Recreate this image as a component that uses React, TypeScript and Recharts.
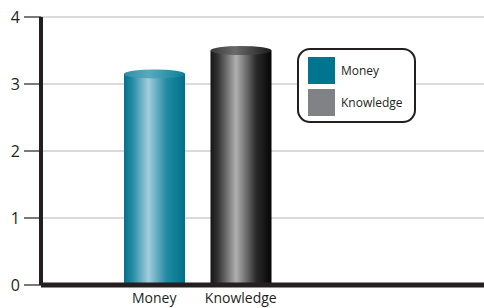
import React from 'react';
import { BarChart, Bar, XAxis, YAxis, CartesianGrid } from 'recharts';

const categories = ['Money', 'Knowledge'];
const values = [3.15, 3.5];
const yTicks = [0, 1, 2, 3, 4];
const legendColors = ['#00758f', '#808285'];

const data = categories.map((name, i) => ({ name, value: values[i] }));

const FONT = '"Open Sans", sans-serif';

const Cylinder = (props: any) => {
  const { x, y, width, height, index } = props;
  if (!width || !height) return null;
  const cx = x + width / 2;
  const ry = 4.5;
  return (
    <g>
      <rect x={x} y={y} width={width} height={height} fill={`url(#body${index})`} />
      <ellipse cx={cx} cy={y} rx={width / 2} ry={ry} fill={`url(#top${index})`} />
    </g>
  );
};

// legend sits over the plot, like the original
const LegendBox = () => (
  <div
    style={{
      position: 'absolute',
      left: 297,
      top: 48,
      width: 119,
      height: 75,
      border: '2px solid #231f20',
      borderRadius: 13,
      background: '#fff',
      boxSizing: 'border-box',
      padding: '7px 0 0 9px',
      fontFamily: FONT,
      fontSize: 12,
      color: '#231f20',
    }}
  >
    {categories.map((c, i) => (
      <div key={c} style={{ display: 'flex', alignItems: 'center', height: 27, marginBottom: 5 }}>
        <div style={{ width: 27, height: 27, background: legendColors[i], marginRight: 6 }} />
        <span>{c}</span>
      </div>
    ))}
  </div>
);

export default function App() {
  return (
    <div style={{ position: 'relative', width: 484, height: 308 }}>
      <style>{`body{margin:0;background:#fff}`}</style>
      <BarChart
        width={484}
        height={308}
        data={data}
        margin={{ top: 17, right: 0, bottom: 0, left: 0 }}
      >
        <defs>
          <linearGradient id="body0" x1="0" y1="0" x2="1" y2="0">
            <stop offset="0%" stopColor="#00728c" />
            <stop offset="15%" stopColor="#2a8ea6" />
            <stop offset="40%" stopColor="#a3cddb" />
            <stop offset="70%" stopColor="#1f8aa3" />
            <stop offset="100%" stopColor="#007089" />
          </linearGradient>
          <linearGradient id="top0" x1="0" y1="0" x2="1" y2="0">
            <stop offset="0%" stopColor="#2a8fa8" />
            <stop offset="40%" stopColor="#5aa9be" />
            <stop offset="100%" stopColor="#0a8099" />
          </linearGradient>
          <linearGradient id="body1" x1="0" y1="0" x2="1" y2="0">
            <stop offset="0%" stopColor="#151515" />
            <stop offset="12%" stopColor="#333" />
            <stop offset="42%" stopColor="#b0b0b0" />
            <stop offset="75%" stopColor="#2a2a2a" />
            <stop offset="100%" stopColor="#050505" />
          </linearGradient>
          <linearGradient id="top1" x1="0" y1="0" x2="1" y2="0">
            <stop offset="0%" stopColor="#3a3a3a" />
            <stop offset="40%" stopColor="#6a6a6a" />
            <stop offset="100%" stopColor="#1a1a1a" />
          </linearGradient>
        </defs>
        <CartesianGrid vertical={false} stroke="#b3b5b8" strokeWidth={1.2} />
        <XAxis
          dataKey="name"
          height={23}
          padding={{ left: 70, right: 200 }}
          axisLine={{ stroke: '#231f20', strokeWidth: 5 }}
          tickLine={false}
          tickSize={0}
          tickMargin={8}
          interval={0}
          tick={{ fill: '#231f20', fontSize: 14, fontFamily: FONT }}
        />
        <YAxis
          width={41}
          domain={[0, 4]}
          ticks={yTicks}
          axisLine={{ stroke: '#231f20', strokeWidth: 4 }}
          tickLine={{ stroke: '#231f20', strokeWidth: 1.2 }}
          tickSize={17}
          tickMargin={4}
          tick={{ fill: '#231f20', fontSize: 16, fontFamily: FONT }}
        />
        <Bar dataKey="value" barSize={61} shape={Cylinder} isAnimationActive={false} />
      </BarChart>
      <LegendBox />
    </div>
  );
}
